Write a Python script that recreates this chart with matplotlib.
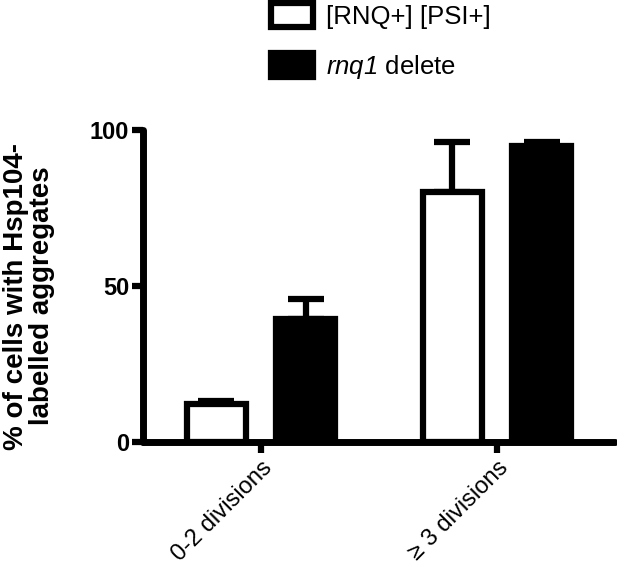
import matplotlib
matplotlib.use("Agg")
import matplotlib.pyplot as plt
import numpy as np

plt.rcParams['font.family'] = ['Liberation Sans', 'DejaVu Sans']
plt.rcParams['mathtext.fontset'] = 'custom'
plt.rcParams['mathtext.rm'] = 'Liberation Sans:italic'
plt.rcParams['mathtext.it'] = 'Liberation Sans:italic'

categories = ["0-2 divisions", "\u2265 3 divisions"]
series_names = ["[RNQ+] [PSI+]", r"$\mathrm{rnq1}$ delete"]
wt_values = [12, 80]
wt_err = [1.2, 16]
del_values = [39.5, 95]
del_err = [6.3, 1]
yticks = [0, 50, 100]

W, H = 617, 567
fig = plt.figure(figsize=(W / 100, H / 100), dpi=100)
ax = fig.add_axes([143 / W, (H - 441.7) / H, (615 - 143) / W, (441.7 - 130) / H])

x = np.arange(len(categories))
off = 0.19
bw = 0.25
lw = 4.5

ax.errorbar(x - off, wt_values, yerr=[np.zeros(len(x)), wt_err], fmt='none',
            ecolor='black', elinewidth=lw, capsize=13, capthick=lw, zorder=1)
ax.errorbar(x + off, del_values, yerr=[np.zeros(len(x)), del_err], fmt='none',
            ecolor='black', elinewidth=lw, capsize=13, capthick=lw, zorder=1)
b1 = ax.bar(x - off, wt_values, bw, color='white', edgecolor='black', linewidth=lw,
            label=series_names[0], zorder=2)
b2 = ax.bar(x + off, del_values, bw, color='black', edgecolor='black', linewidth=lw,
            label=series_names[1], zorder=2)

ax.set_xlim(-0.5, 1.5)
ax.set_ylim(0, 100)
ax.set_yticks(yticks)
ax.set_yticklabels([str(v) for v in yticks], fontweight='bold', fontsize=17)
ax.set_xticks(x)
ax.set_xticklabels(categories, rotation=45, ha='right', rotation_mode='anchor', fontsize=17)

for s in ['top', 'right']:
    ax.spines[s].set_visible(False)
for s in ['left', 'bottom']:
    ax.spines[s].set_linewidth(5)
    ax.spines[s].set_capstyle('round')
ax.tick_params(axis='both', direction='out', length=8, width=4.5, pad=2)
ax.tick_params(axis='x', pad=3)
ax.patch.set_alpha(0)

fig.text(29 / W, 1 - 296 / H, "% of cells with Hsp104-\nlabelled aggregates",
         rotation=90, ha='center', va='center', fontsize=20, fontweight='bold',
         multialignment='center', linespacing=1.0)

leg = fig.legend(handles=[b1, b2], loc='upper left',
                 bbox_to_anchor=(271 / W, 1 - 3 / H), frameon=False,
                 fontsize=18.5, handlelength=1.65, handleheight=1.05,
                 labelspacing=0.95, handletextpad=0.5, borderpad=0.0,
                 borderaxespad=0.0)

fig.savefig("out.png", dpi=100)
